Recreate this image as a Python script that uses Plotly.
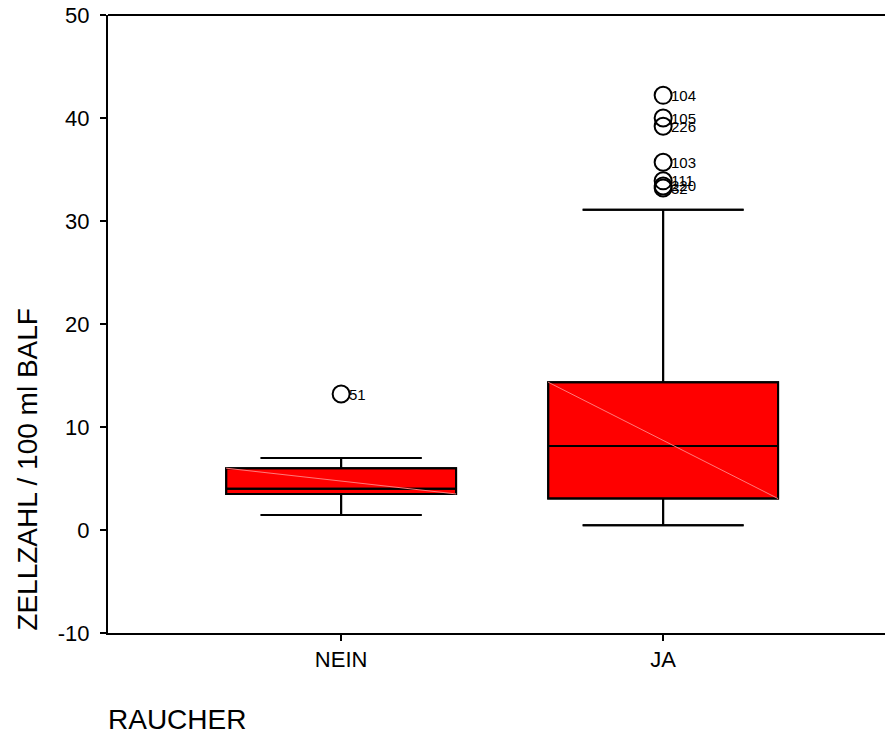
import plotly.graph_objects as go

# Cell counts per 100 ml BALF, grouped by smoking status
categories = ["NEIN", "JA"]
positions = [0, 1]
q1 = [3.5, 3.05]
median = [4.0, 8.15]
q3 = [6.0, 14.35]
lower_whisker = [1.45, 0.45]
upper_whisker = [7.0, 31.1]

# Outlying cases with their case numbers
outlier_pos = [0, 1, 1, 1, 1, 1, 1, 1]
outlier_val = [13.2, 42.2, 40.0, 39.2, 35.7, 33.9, 33.4, 33.2]
outlier_ids = ["51", "104", "105", "226", "103", "111", "220", "32"]

y_ticks = [-10, 0, 10, 20, 30, 40, 50]
y_tick_text = ["-10", "0", "10", "20", "30", "40", "50"]

BOX_W = 0.714
FONT = "Liberation Sans, Arial, sans-serif"

fig = go.Figure()

# filled boxes
fig.add_trace(go.Box(
    x=positions, q1=q1, median=median, q3=q3,
    lowerfence=lower_whisker, upperfence=upper_whisker,
    width=BOX_W, whiskerwidth=0.7, boxpoints=False,
    fillcolor="#ff0000", line=dict(color="black", width=2),
    hoverinfo="skip", showlegend=False,
))

# faint diagonal across each box (top-left to bottom-right)
for p, lo, hi in zip(positions, q1, q3):
    fig.add_trace(go.Scatter(
        x=[p - BOX_W / 2, p + BOX_W / 2], y=[hi, lo], mode="lines",
        line=dict(color="#ff7a7a", width=1), hoverinfo="skip", showlegend=False,
    ))

# outlines redrawn on top
fig.add_trace(go.Box(
    x=positions, q1=q1, median=median, q3=q3,
    lowerfence=lower_whisker, upperfence=upper_whisker,
    width=BOX_W, whiskerwidth=0.7, boxpoints=False,
    fillcolor="rgba(0,0,0,0)", line=dict(color="black", width=2),
    hoverinfo="skip", showlegend=False,
))

# outliers
fig.add_trace(go.Scatter(
    x=outlier_pos, y=outlier_val, mode="markers",
    marker=dict(symbol="circle-open", size=17, color="black", line=dict(width=2)),
    cliponaxis=False, hoverinfo="skip", showlegend=False,
))

annotations = [
    dict(text=cid, x=px, y=val, xref="x", yref="y", xanchor="left", yanchor="middle",
         xshift=6, showarrow=False, font=dict(size=15, family=FONT, color="black"))
    for px, val, cid in zip(outlier_pos, outlier_val, outlier_ids)
]
annotations += [
    dict(text="ZELLZAHL / 100 ml BALF", textangle=-90, xref="paper", yref="paper",
         x=-0.104, y=0, xanchor="center", yanchor="bottom", showarrow=False,
         font=dict(size=28, family=FONT)),
    dict(text="RAUCHER", xref="paper", yref="paper", x=-0.002, y=-0.112,
         xanchor="left", yanchor="top", showarrow=False,
         font=dict(size=28, family=FONT)),
]

fig.update_layout(
    width=885, height=740,
    margin=dict(l=108, r=0, t=15, b=107),
    paper_bgcolor="white", plot_bgcolor="white",
    font=dict(family=FONT, color="black"),
    showlegend=False,
    xaxis=dict(
        range=[-0.724, 1.689], tickvals=positions, ticktext=categories,
        showgrid=False, zeroline=False, showline=True, linecolor="black", linewidth=2,
        ticks="outside", ticklen=6, tickwidth=2, tickcolor="black",
        tickfont=dict(size=22), ticklabelstandoff=0,
    ),
    yaxis=dict(
        range=[-10, 50], tickvals=y_ticks, ticktext=y_tick_text,
        showgrid=False, zeroline=False, showline=True, linecolor="black", linewidth=2,
        ticks="outside", ticklen=6, tickwidth=2, tickcolor="black",
        tickfont=dict(size=22), ticklabelstandoff=6,
    ),
    shapes=[dict(type="line", xref="paper", yref="paper", x0=0, x1=1, y0=1, y1=1,
                 line=dict(color="black", width=2))],
    annotations=annotations,
)

fig.write_html("out.html")
